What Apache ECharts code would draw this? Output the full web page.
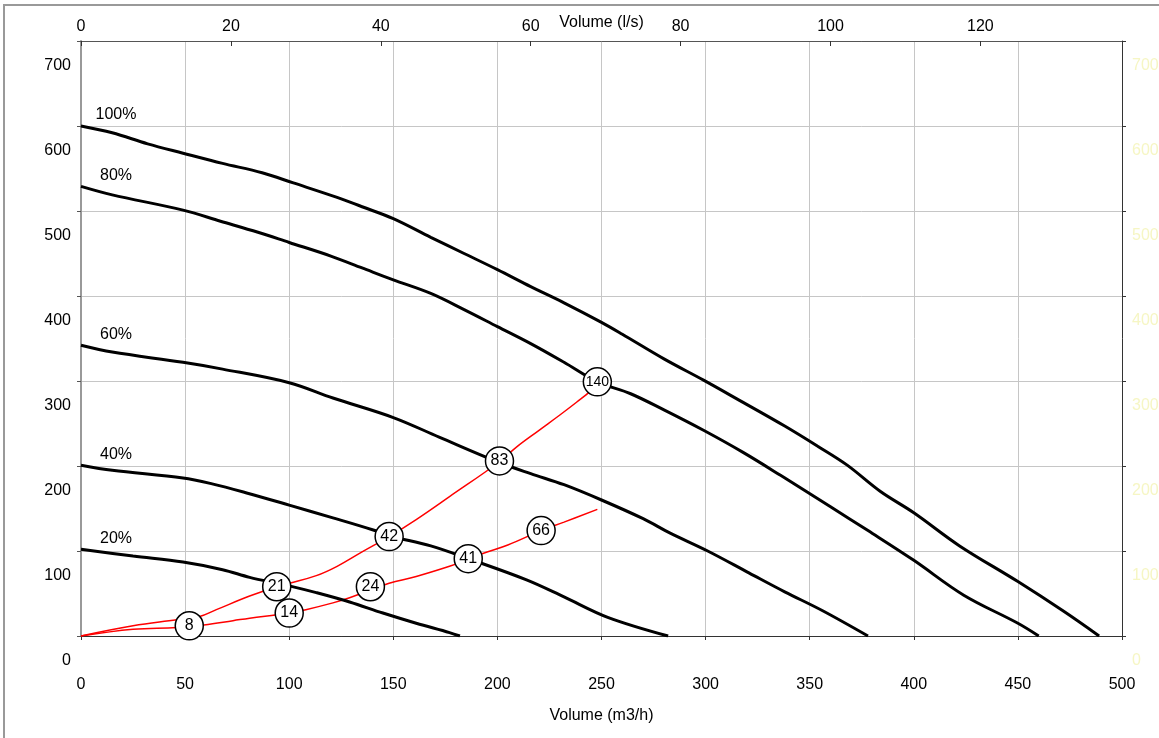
<!DOCTYPE html>
<html>
<head>
<meta charset="utf-8">
<script src="https://cdn.jsdelivr.net/npm/echarts@6/dist/echarts.min.js"></script>
<style>
html,body{margin:0;padding:0;background:#fff;}
#chart{width:1159px;height:738px;}
</style>
</head>
<body>
<div id="chart"></div>
<script>
// Fan curves: [volume m3/h, pressure Pa]
const fan100 = [[0,600],[15,592],[32,579],[49,568],[68,556],[87,545],[102,533],[123,516],[135,505],[150,491],[168,469],[184,450],[200,431],[216,411],[232,392],[250,369],[260,355],[280,326],[299,301],[315,279],[338,247],[354,223],[368,201],[384,170],[400,145],[422,106],[450,64],[472,29],[489,0]];
const fan80 = [[0,529],[15,519],[49,501],[67,488],[85,475],[100,463],[120,447],[135,433],[150,419],[168,403],[184,384],[200,364],[216,344],[232,322],[248,299],[264,285],[280,266],[299,242],[318,216],[336,189],[360,152],[378,124],[400,89],[424,48],[450,15],[460,0]];
const fan60 = [[0,342],[15,334],[49,322],[68,314],[100,298],[121,280],[150,257],[172,234],[200,205],[216,191],[232,178],[250,160],[270,138],[283,121],[301,100],[321,74],[338,52],[356,30],[378,0]];
const fan40 = [[0,201],[15,195],[49,186],[63,179],[80,168],[100,154],[121,139],[140,125],[148,118],[168,106],[186,91],[214,66],[232,46],[253,22],[282,0]];
const fan20 = [[0,102],[25,94],[49,87],[68,78],[81,69],[94,62],[100,59],[113,51],[129,40],[145,27],[161,15],[177,4],[182,0]];
const fanNames = ['100%','80%','60%','40%','20%'];

// System curves
const systemA = [[0,0],[25,12],[46,19],[57,23],[65,31],[81,47],[94,58],[100,62],[113,71],[123,82],[135,99],[148,117],[161,137],[177,164],[201,205],[209,222],[220,242],[230,260],[238,275],[245,289],[248,299]];
const systemB = [[0,0],[25,8],[46,10],[52,12],[59,13],[73,18],[81,21],[94,25],[100,27],[108,31],[121,39],[129,45],[140,55],[148,62],[161,70],[177,82],[186,90],[193,97],[205,107],[221,124],[232,134],[248,149]];

// Power markers: [volume, pressure, label]
const markers = [[52,12,'8'],[100,27,'14'],[94,58,'21'],[139,58,'24'],[148,117,'42'],[186,91,'41'],[221,124,'66'],[201,206,'83'],[248,299,'140']];

const xTicksMax = 500, xInterval = 50;
const yMax = 700, yInterval = 100;
const lsInterval = 20;

const FONT = '"Liberation Sans", Arial, sans-serif';
const chart = echarts.init(document.getElementById('chart'));

const fans = [fan100, fan80, fan60, fan40, fan20];
const fanSeries = fans.map((d, i) => ({
  type: 'line', name: fanNames[i], data: d, xAxisIndex: 0, yAxisIndex: 0,
  showSymbol: false, symbol: 'none', smooth: 0.35,
  lineStyle: {color: '#000', width: 3}, z: 3, silent: true
}));
const sysSeries = [systemA, systemB].map(d => ({
  type: 'line', data: d, xAxisIndex: 0, yAxisIndex: 0,
  showSymbol: false, symbol: 'none', smooth: 0.4,
  lineStyle: {color: '#f00', width: 1.5}, z: 2, silent: true
}));

const option = {
  animation: false,
  backgroundColor: '#fff',
  textStyle: {fontFamily: FONT},
  graphic: [{
    type: 'rect', shape: {x: 4, y: 5, width: 1300, height: 900},
    style: {fill: 'none', stroke: '#999', lineWidth: 2}, z: -1, silent: true
  }],
  grid: {left: 81, right: 37, top: 41, bottom: 102, containLabel: false, outerBoundsMode: 'none'},
  xAxis: [{
    type: 'value', position: 'bottom', min: 0, max: xTicksMax, interval: xInterval,
    name: 'Volume (m3/h)', nameLocation: 'middle', nameGap: 72, nameMoveOverlap: false,
    nameTextStyle: {color: '#000', fontSize: 16, fontFamily: FONT},
    axisLine: {show: true, onZero: false, lineStyle: {color: '#333', width: 1}},
    axisTick: {show: true, inside: false, length: 4, lineStyle: {color: '#333'}},
    axisLabel: {color: '#000', fontSize: 16, margin: 41, fontFamily: FONT},
    splitLine: {show: true, lineStyle: {color: '#c6c6c6', width: 1}}
  }, {
    type: 'value', position: 'top', min: 0, max: xTicksMax / 3.6, interval: lsInterval,
    name: 'Volume (l/s)', nameLocation: 'middle', nameGap: 10, nameMoveOverlap: false,
    nameTextStyle: {color: '#000', fontSize: 16, fontFamily: FONT},
    axisLine: {show: true, onZero: false, lineStyle: {color: '#555', width: 1}},
    axisTick: {show: true, inside: true, length: 5, lineStyle: {color: '#333'}},
    axisLabel: {color: '#000', fontSize: 16, margin: 6, fontFamily: FONT, showMaxLabel: false,
      formatter: v => (Math.abs(v % lsInterval) < 1e-6 ? String(v) : '')},
    splitLine: {show: false}
  }],
  yAxis: [{
    type: 'value', position: 'left', min: 0, max: yMax, interval: yInterval,
    axisLine: {show: true, onZero: false, lineStyle: {color: '#999', width: 2}},
    axisTick: {show: true, inside: false, length: 4, lineStyle: {color: '#555'}},
    axisLabel: {color: '#000', fontSize: 16, margin: 10, fontFamily: FONT, verticalAlign: 'top', lineHeight: 50},
    splitLine: {show: true, lineStyle: {color: '#c6c6c6', width: 1}}
  }, {
    type: 'value', position: 'right', min: 0, max: yMax, interval: yInterval,
    axisLine: {show: true, onZero: false, lineStyle: {color: '#333', width: 1}},
    axisTick: {show: true, inside: false, length: 4, lineStyle: {color: '#333'}},
    axisLabel: {color: '#f6f6c4', fontSize: 16, margin: 10, fontFamily: FONT, verticalAlign: 'top', lineHeight: 50},
    splitLine: {show: false}
  }],
  series: [
    ...sysSeries,
    ...fanSeries,
    {
      type: 'custom', xAxisIndex: 0, yAxisIndex: 0, silent: true, z: 4,
      data: fans.map(d => d[0]),
      renderItem: (params, api) => {
        const p = api.coord([api.value(0), api.value(1)]);
        return {
          type: 'text', x: p[0] + 35, y: p[1] - 11,
          style: {text: fanNames[params.dataIndex], fill: '#000',
            font: '16px "Liberation Sans", Arial, sans-serif',
            align: 'center', verticalAlign: 'middle'}
        };
      }
    },
    {
      type: 'scatter', xAxisIndex: 0, yAxisIndex: 0, silent: true, z: 5,
      symbol: 'circle', symbolSize: 28,
      itemStyle: {color: '#fff', borderColor: '#000', borderWidth: 1.5, opacity: 1},
      data: markers.map(m => ({value: [m[0], m[1]], name: m[2]})),
      label: {show: true, position: 'inside', formatter: '{b}', color: '#000',
        fontFamily: FONT,
        fontSize: 16}
    }
  ]
};
option.series[option.series.length - 1].data.forEach(d => {
  if (d.name.length > 2) d.label = {fontSize: 14};
});
chart.setOption(option);
</script>
</body>
</html>
